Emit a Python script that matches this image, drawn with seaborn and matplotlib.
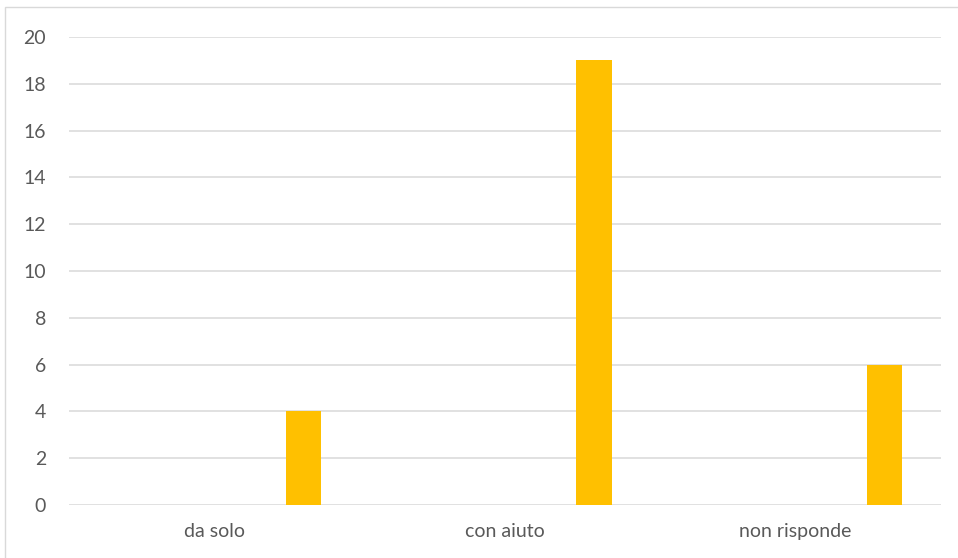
import matplotlib
matplotlib.use("Agg")
import matplotlib.pyplot as plt
import seaborn as sns
import pandas as pd
from matplotlib.patches import Rectangle

categories = ["da solo", "con aiuto", "non risponde"]
series_names = ["Serie1", "Serie2", "Serie3", "Serie4", "Serie5", "Serie6"]
serie1 = [0, 0, 0]
serie2 = [0, 0, 0]
serie3 = [0, 0, 0]
serie4 = [0, 0, 0]
serie5 = [0, 0, 0]
serie6 = [4, 19, 6]
y_ticks = [0, 2, 4, 6, 8, 10, 12, 14, 16, 18, 20]

all_series = [serie1, serie2, serie3, serie4, serie5, serie6]
rows = []
for name, vals in zip(series_names, all_series):
    for cat, v in zip(categories, vals):
        rows.append({"categoria": cat, "serie": name, "valore": v})
df = pd.DataFrame(rows)

sns.set_theme(style="white")
plt.rcParams["font.family"] = ["Lato", "DejaVu Sans"]

fig = plt.figure(figsize=(9.58, 5.58), dpi=100)
ax = fig.add_axes([69/958, 1-505/558, (941-69)/958, (505-37)/558])

palette = ["#4472C4", "#ED7D31", "#A5A5A5", "#5B9BD5", "#70AD47", "#FFC000"]
sns.barplot(data=df, x="categoria", y="valore", hue="serie", order=categories,
            hue_order=series_names, palette=palette, width=0.735, gap=0,
            linewidth=0, saturation=1, legend=False, ax=ax, zorder=3)

ax.set_xlim(-0.5, 2.5)
ax.set_ylim(0, 20)
ax.set_yticks(y_ticks)
ax.set_yticklabels([str(t) for t in y_ticks])
ax.yaxis.grid(True, color="#D9D9D9", linewidth=1.1, zorder=0)
ax.xaxis.grid(False)
for s in ax.spines.values():
    s.set_visible(False)
ax.set_xlabel("")
ax.set_ylabel("")
ax.tick_params(axis="both", length=0, colors="#595959", labelsize=14)
ax.tick_params(axis="y", pad=16.5)
ax.tick_params(axis="x", pad=13)

fig.patches.append(Rectangle((5/958, -0.1), 1.2, 1 - 7.5/558 + 0.1,
                             transform=fig.transFigure, fill=False,
                             edgecolor="#D9D9D9", linewidth=1.0))

fig.savefig("out.png", dpi=100)
